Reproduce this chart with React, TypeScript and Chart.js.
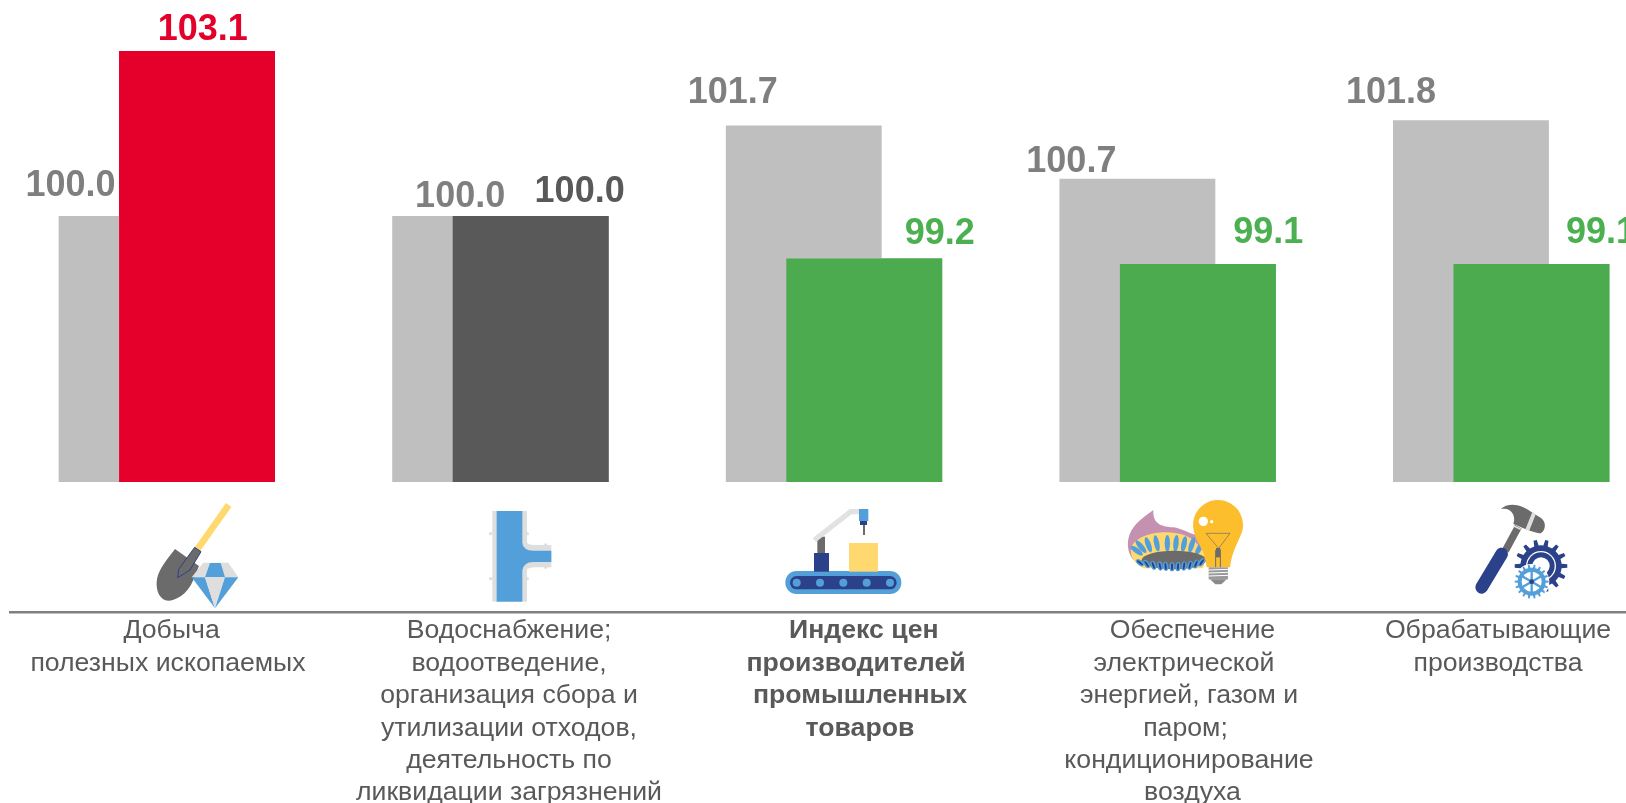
import React, { useEffect, useRef } from "react";
import { Chart, registerables } from "chart.js";

Chart.register(...registerables);

const categories = [
  "Добыча полезных ископаемых",
  "Водоснабжение; водоотведение, организация сбора и утилизации отходов, деятельность по ликвидации загрязнений",
  "Индекс цен производителей промышленных товаров",
  "Обеспечение электрической энергией, газом и паром; кондиционирование воздуха",
  "Обрабатывающие производства",
];
const previousValues = [100.0, 100.0, 101.7, 100.7, 101.8];
const currentValues = [103.1, 100.0, 99.2, 99.1, 99.1];
const categoryLines = [
  ["Добыча", "полезных ископаемых"],
  ["Водоснабжение;", "водоотведение,", "организация сбора и", "утилизации отходов,", "деятельность по", "ликвидации загрязнений"],
  ["Индекс цен", "производителей", "промышленных", "товаров"],
  ["Обеспечение", "электрической", "энергией, газом и", "паром;", "кондиционирование", "воздуха"],
  ["Обрабатывающие", "производства"],
];

const GREY = "#BFBFBF";
const RED = "#E4002B";
const DARK = "#595959";
const GREEN = "#4CAB4E";
const currentColors = [RED, DARK, GREEN, GREEN, GREEN];
const currentLabelColors = [RED, DARK, "#4CAF50", "#4CAF50", "#4CAF50"];

// Hand-placed label layout, as in the source slide (px relative to bar centre / absolute y).
const prevLabelDx = [-66, -10, -71, -66, -80];
const prevLabelY = [186.5, 197, 93, 162, 93];
const currLabelDx = [5.7, 49, 75.5, 70.5, 69.5];
const currLabelY = [30, 191.7, 234, 233, 233];
const lineCentres = [
  [171.6, 168],
  [509, 509, 509, 509, 509, 509],
  [863.8, 856, 860, 860],
  [1192.5, 1184, 1189, 1185.5, 1189, 1192.5],
  [1498, 1498],
];

type Ctx = CanvasRenderingContext2D;
const poly = (c: Ctx, pts: number[], fill: string) => {
  c.fillStyle = fill;
  c.beginPath();
  for (let i = 0; i < pts.length; i += 2) {
    if (i === 0) c.moveTo(pts[0], pts[1]);
    else c.lineTo(pts[i], pts[i + 1]);
  }
  c.closePath();
  c.fill();
};
const rect = (c: Ctx, x0: number, y0: number, x1: number, y1: number, fill: string) => {
  c.fillStyle = fill;
  c.fillRect(x0, y0, x1 - x0, y1 - y0);
};
const rrect = (c: Ctx, x0: number, y0: number, x1: number, y1: number, r: number, fill: string) => {
  c.fillStyle = fill;
  c.beginPath();
  c.roundRect(x0, y0, x1 - x0, y1 - y0, r);
  c.fill();
};
const circle = (c: Ctx, x: number, y: number, r: number, fill: string) => {
  c.fillStyle = fill;
  c.beginPath();
  c.arc(x, y, r, 0, Math.PI * 2);
  c.fill();
};
const stroke = (c: Ctx, pts: number[], w: number, col: string, cap: CanvasLineCap = "butt") => {
  c.strokeStyle = col;
  c.lineWidth = w;
  c.lineCap = cap;
  c.lineJoin = "miter";
  c.beginPath();
  for (let i = 0; i < pts.length; i += 2) {
    if (i === 0) c.moveTo(pts[0], pts[1]);
    else c.lineTo(pts[i], pts[i + 1]);
  }
  c.stroke();
};
const gear = (c: Ctx, cx: number, cy: number, r: number, h: number, n: number, fill: string) => {
  c.fillStyle = fill;
  c.beginPath();
  const step = (Math.PI * 2) / n;
  for (let i = 0; i < n; i++) {
    const a = i * step;
    const pts: [number, number][] = [
      [r, a - step * 0.5],
      [r, a - step * 0.24],
      [r + h, a - step * 0.14],
      [r + h, a + step * 0.14],
      [r, a + step * 0.24],
    ];
    pts.forEach(([rr, t], j) => {
      const x = cx + rr * Math.cos(t);
      const y = cy + rr * Math.sin(t);
      if (i === 0 && j === 0) c.moveTo(x, y);
      else c.lineTo(x, y);
    });
  }
  c.closePath();
  c.fill();
};

const BLUE = "#539FD9";
const NAVY = "#2B4189";
const LIGHT = "#DEDEDE";
const ICON_GREY = "#6B6B6B";
const YELLOW = "#FFD96F";

function withZoomFrame(c: Ctx, ox: number, oy: number, draw: () => void) {
  c.save();
  c.translate(ox, oy);
  c.scale(1 / 3, 1 / 3);
  draw();
  c.restore();
}

function drawShovelIcon(c: Ctx) {
  withZoomFrame(c, 100, 480, () => {
    stroke(c, [386, 75, 292, 208], 20, YELLOW);
    c.fillStyle = ICON_GREY;
    c.beginPath();
    c.moveTo(225, 207);
    c.lineTo(297, 258);
    c.lineTo(280, 300);
    c.bezierCurveTo(262, 345, 225, 362, 205, 362);
    c.bezierCurveTo(180, 360, 168, 335, 170, 305);
    c.bezierCurveTo(172, 275, 195, 245, 225, 207);
    c.closePath();
    c.fill();
    c.fillStyle = ICON_GREY;
    c.strokeStyle = NAVY;
    c.lineWidth = 3;
    c.beginPath();
    c.moveTo(284, 202);
    c.lineTo(303, 215);
    c.lineTo(270, 270);
    c.lineTo(233, 293);
    c.lineTo(236, 268);
    c.closePath();
    c.fill();
    c.stroke();
    poly(c, [310, 248, 385, 248, 415, 292, 275, 292], LIGHT);
    poly(c, [330, 249, 362, 249, 375, 292, 315, 292], BLUE);
    poly(c, [275, 292, 315, 292, 345, 385], BLUE);
    poly(c, [315, 292, 375, 292, 345, 385], LIGHT);
    poly(c, [375, 292, 415, 292, 345, 385], BLUE);
  });
}

function drawPipeIcon(c: Ctx) {
  withZoomFrame(c, 100, 480, () => {
    rect(c, 1177, 93, 1281, 365, LIGHT);
    c.fillStyle = LIGHT;
    c.beginPath();
    c.moveTo(1270, 165);
    c.quadraticCurveTo(1270, 195, 1305, 195);
    c.lineTo(1354, 195);
    c.lineTo(1354, 262);
    c.lineTo(1305, 262);
    c.quadraticCurveTo(1270, 262, 1270, 295);
    c.closePath();
    c.fill();
    [[1172, 161], [1282, 161], [1172, 296], [1282, 296], [1337, 195], [1337, 262]].forEach(([x, y]) =>
      circle(c, x, y, 5, LIGHT)
    );
    rect(c, 1190, 93, 1267, 365, BLUE);
    c.fillStyle = BLUE;
    c.beginPath();
    c.moveTo(1265, 185);
    c.quadraticCurveTo(1270, 212, 1300, 212);
    c.lineTo(1354, 212);
    c.lineTo(1354, 246);
    c.lineTo(1300, 246);
    c.quadraticCurveTo(1270, 246, 1265, 275);
    c.closePath();
    c.fill();
  });
}

function drawConveyorIcon(c: Ctx) {
  withZoomFrame(c, 760, 480, () => {
    rrect(c, 76, 273, 424, 342, 34, BLUE);
    rrect(c, 90, 288, 410, 328, 20, NAVY);
    [110, 180, 250, 320, 390].forEach((x) => circle(c, x, 308, 12, BLUE));
    rect(c, 162, 219, 207, 275, NAVY);
    rect(c, 172, 170, 195, 219, ICON_GREY);
    stroke(c, [163, 180, 272, 95, 300, 95], 16, "#E2E2E2");
    rect(c, 297, 87, 325, 123, BLUE);
    rect(c, 300, 123, 321, 135, NAVY);
    rect(c, 309, 135, 315, 165, ICON_GREY);
    rect(c, 267, 189, 354, 275, YELLOW);
  });
}

function drawEnergyIcon(c: Ctx) {
  withZoomFrame(c, 760, 480, () => {
    c.fillStyle = "#C591B0";
    c.beginPath();
    c.moveTo(1180, 90);
    c.bezierCurveTo(1178, 125, 1195, 140, 1240, 142);
    c.bezierCurveTo(1265, 145, 1285, 160, 1310, 165);
    c.lineTo(1330, 230);
    c.lineTo(1120, 240);
    c.bezierCurveTo(1100, 215, 1098, 180, 1115, 150);
    c.bezierCurveTo(1130, 125, 1160, 105, 1180, 90);
    c.closePath();
    c.fill();
    c.fillStyle = YELLOW;
    c.beginPath();
    c.moveTo(1113, 205);
    c.bezierCurveTo(1125, 165, 1200, 150, 1250, 160);
    c.bezierCurveTo(1290, 165, 1320, 190, 1335, 235);
    c.lineTo(1330, 265);
    c.lineTo(1150, 265);
    c.bezierCurveTo(1125, 250, 1110, 235, 1113, 205);
    c.closePath();
    c.fill();
    const petals: number[][] = [
      [1130, 212, -0.95, 22], [1143, 200, -0.7, 24], [1165, 194, -0.35, 24], [1190, 190, -0.2, 25],
      [1222, 190, 0, 25], [1248, 190, 0.1, 25], [1272, 192, 0.2, 24], [1295, 195, 0.3, 24], [1318, 205, 0.5, 22],
    ];
    c.fillStyle = BLUE;
    petals.forEach(([x, y, a, l]) => {
      c.beginPath();
      c.ellipse(x, y, 8, l, a, 0, Math.PI * 2);
      c.fill();
    });
    c.fillStyle = ICON_GREY;
    c.beginPath();
    c.ellipse(1242, 240, 97, 28, 0, 0, Math.PI * 2);
    c.fill();
    const flames: number[][] = [
      [1140, 248, -0.9], [1160, 252, -0.6], [1180, 256, -0.35], [1200, 258, -0.2], [1217, 259, -0.1], [1236, 260, 0],
      [1254, 260, 0.05], [1272, 258, 0.15], [1290, 256, 0.25], [1308, 252, 0.4], [1325, 247, 0.6],
    ];
    flames.forEach(([x, y, a]) => {
      c.fillStyle = BLUE;
      c.beginPath();
      c.ellipse(x, y, 8, 14, a, 0, Math.PI * 2);
      c.fill();
      c.fillStyle = NAVY;
      c.beginPath();
      c.ellipse(x, y, 3, 11, a, 0, Math.PI * 2);
      c.fill();
    });
    // bulb
    const BULB = "#FDBE2D";
    c.fillStyle = BULB;
    c.beginPath();
    c.arc(1374, 135, 75, Math.PI * 0.85, Math.PI * 0.15);
    c.bezierCurveTo(1430, 195, 1415, 220, 1410, 262);
    c.lineTo(1340, 262);
    c.bezierCurveTo(1335, 220, 1318, 195, 1306, 170);
    c.closePath();
    c.fill();
    circle(c, 1330, 124, 14, "#FFFFFF");
    circle(c, 1355, 125, 5, "#FFFFFF");
    stroke(c, [1338, 160, 1410, 160, 1376, 205, 1338, 160], 2, ICON_GREY);
    stroke(c, [1367, 262, 1367, 210], 3, ICON_GREY);
    stroke(c, [1381, 262, 1381, 210], 3, ICON_GREY);
    rect(c, 1368, 204, 1381, 232, ICON_GREY);
    rect(c, 1346, 262, 1404, 298, "#9A9A9A");
    [270, 279, 288].forEach((y) => stroke(c, [1346, y, 1404, y - 2], 3, "#FFFFFF"));
    poly(c, [1350, 298, 1400, 298, 1384, 313, 1366, 313], "#8A8A8A");
  });
}

function drawToolsIcon(c: Ctx) {
  withZoomFrame(c, 1300, 480, () => {
    stroke(c, [616, 212, 655, 140], 22, ICON_GREY);
    c.fillStyle = ICON_GREY;
    c.beginPath();
    c.moveTo(602, 88);
    c.bezierCurveTo(625, 65, 665, 72, 700, 100);
    c.lineTo(722, 113);
    c.bezierCurveTo(740, 125, 738, 150, 722, 160);
    c.bezierCurveTo(712, 160, 680, 150, 640, 132);
    c.bezierCurveTo(650, 105, 630, 80, 602, 88);
    c.closePath();
    c.fill();
    stroke(c, [702, 100, 682, 150], 12, LIGHT);
    stroke(c, [640, 137, 662, 148], 5, LIGHT);
    stroke(c, [545, 322, 605, 222], 38, NAVY, "round");
    gear(c, 723, 258, 62, 17, 14, NAVY);
    circle(c, 723, 258, 45, "#FFFFFF");
    circle(c, 723, 258, 41, NAVY);
    circle(c, 723, 258, 26, "#FFFFFF");
    circle(c, 695, 305, 53, "#FFFFFF");
    gear(c, 695, 305, 42, 9, 18, BLUE);
    circle(c, 695, 305, 30, "#FFFFFF");
    for (let i = 0; i < 6; i++) {
      const a = (i * Math.PI) / 3 + Math.PI / 6;
      stroke(c, [695, 305, 695 + 36 * Math.cos(a), 305 + 36 * Math.sin(a)], 7, BLUE);
    }
    circle(c, 695, 305, 7, NAVY);
  });
}

const slidePlugin = {
  id: "slide",
  afterDatasetsDraw(chart: any) {
    const c: Ctx = chart.ctx;
    // The front series is drawn over the back one, which it overlaps.
    chart.getDatasetMeta(1).controller.draw();

    const back = chart.getDatasetMeta(0).data;
    const front = chart.getDatasetMeta(1).data;
    c.save();
    c.font = "bold 36px 'Liberation Sans'";
    c.textAlign = "center";
    c.textBaseline = "middle";
    previousValues.forEach((v, i) => {
      c.fillStyle = "#7F7F7F";
      c.fillText(v.toFixed(1), back[i].x + prevLabelDx[i], prevLabelY[i]);
    });
    currentValues.forEach((v, i) => {
      c.fillStyle = currentLabelColors[i];
      c.fillText(v.toFixed(1), front[i].x + currLabelDx[i], currLabelY[i]);
    });

    drawShovelIcon(c);
    drawPipeIcon(c);
    drawConveyorIcon(c);
    drawEnergyIcon(c);
    drawToolsIcon(c);

    c.fillStyle = "#808080";
    c.fillRect(9, 611, 1661, 2.5);

    c.fillStyle = DARK;
    categoryLines.forEach((lines, i) => {
      c.font = `${i === 2 ? "bold " : ""}26.67px 'Liberation Sans'`;
      lines.forEach((line, j) => {
        c.fillText(line, lineCentres[i][j], 631 + j * 32.4);
      });
    });
    c.restore();
  },
};

export default function App() {
  const ref = useRef<HTMLCanvasElement>(null);
  useEffect(() => {
    document.body.style.margin = "0";
    const chart = new Chart(ref.current!, {
      type: "bar",
      data: {
        labels: categories,
        datasets: [
          { data: previousValues, base: 95, backgroundColor: GREY, categoryPercentage: 0.3625, barPercentage: 2.578 },
          { data: currentValues, base: 95, backgroundColor: currentColors, categoryPercentage: 0.3625, barPercentage: 2.578 },
        ],
      },
      options: {
        animation: false,
        responsive: false,
        layout: { padding: { top: 3.2, bottom: 321, left: -0.7, right: 0 } },
        plugins: { legend: { display: false }, tooltip: { enabled: false }, title: { display: false } },
        scales: {
          x: { display: false },
          y: { display: false, min: 95, max: 104 },
        },
      },
      plugins: [slidePlugin],
    });
    return () => chart.destroy();
  }, []);
  return (
    <div style={{ position: "fixed", left: 0, top: 0, width: 1626, height: 803, overflow: "hidden", background: "#fff" }}>
      <canvas ref={ref} width={1668} height={803} style={{ display: "block" }} />
    </div>
  );
}
